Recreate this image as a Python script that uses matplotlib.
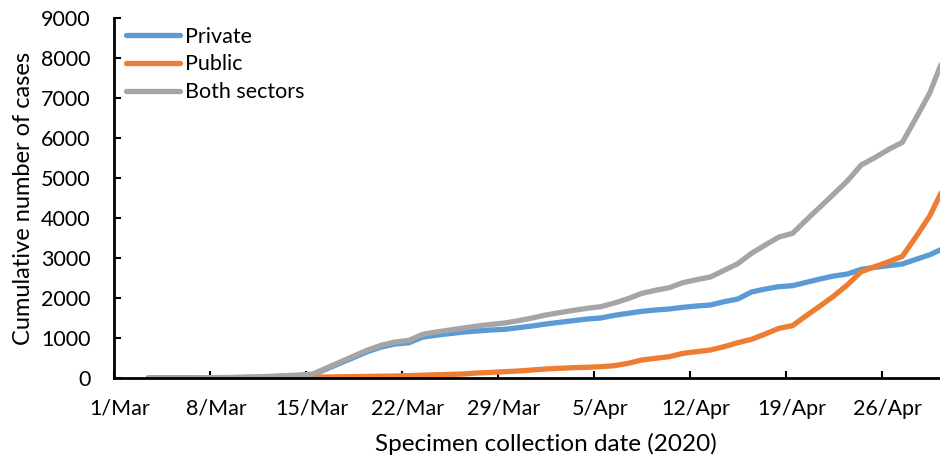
import datetime as dt
import matplotlib
matplotlib.use("Agg")
import matplotlib.pyplot as plt
import matplotlib.transforms as mtransforms

# --- Data, daily from 3 Mar to 30 Apr 2020
start_date = dt.date(2020, 3, 3)
private = [2, 3, 4, 5, 6, 8, 10, 16, 24, 34, 46, 62, 80,
           225, 370, 515, 660, 775, 850, 880, 1020, 1070, 1110, 1150, 1175, 1200, 1217,
           1258, 1300, 1350, 1392, 1433, 1475, 1500, 1567, 1617, 1667, 1700, 1725, 1767,
           1800, 1825, 1908, 1975, 2150, 2225, 2283, 2308, 2392, 2475, 2550, 2600, 2717,
           2767, 2808, 2850, 2967, 3080, 3240]
public = [0, 0, 1, 1, 2, 2, 3, 4, 6, 8, 10, 13, 20,
          25, 30, 35, 40, 45, 50, 60, 70, 80, 90, 100, 125, 140, 158,
          175, 200, 225, 242, 258, 267, 283, 308, 367, 450, 492, 533, 617,
          658, 700, 783, 883, 967, 1100, 1242, 1310, 1560, 1800, 2050, 2330, 2658,
          2783, 2908, 3040, 3533, 4050, 4750]
both = [2, 3, 5, 6, 8, 10, 13, 20, 30, 42, 56, 75, 100,
        250, 400, 550, 700, 820, 900, 940, 1090, 1150, 1200, 1250, 1300, 1340, 1375,
        1433, 1500, 1575, 1634, 1691, 1742, 1783, 1875, 1984, 2117, 2192, 2258, 2384,
        2458, 2525, 2691, 2858, 3117, 3325, 3525, 3618, 3952, 4275, 4600, 4930, 5325,
        5510, 5716, 5890, 6500, 7130, 7990]

tick_labels = ["1/Mar", "8/Mar", "15/Mar", "22/Mar", "29/Mar", "5/Apr", "12/Apr", "19/Apr", "26/Apr"]
y_ticks = [0, 1000, 2000, 3000, 4000, 5000, 6000, 7000, 8000, 9000]

# days since 1 Mar, points sit in the middle of each day (Excel date axis)
origin = dt.date(2020, 3, 1)
offset = (start_date - origin).days
days = [offset + i + 0.5 for i in range(len(both))]

plt.rcParams["font.family"] = ["Lato", "DejaVu Sans"]

fig = plt.figure(figsize=(9.4, 4.61), dpi=100)
ax = fig.add_axes([114 / 940, 83 / 461, 1 - 114 / 940, 360 / 461])

ax.plot(days, private, color="#5B9BD5", lw=3.8, label="Private", solid_capstyle="round")
ax.plot(days, public, color="#ED7D31", lw=3.8, label="Public", solid_capstyle="round")
ax.plot(days, both, color="#A5A5A5", lw=3.8, label="Both sectors", solid_capstyle="round")

ax.set_xlim(0, 826 / 13.71)
ax.set_ylim(0, 9000)
ax.set_xticks(range(0, 7 * len(tick_labels), 7))
ax.set_xticklabels(tick_labels)
ax.set_yticks(y_ticks)

for side in ["top", "right"]:
    ax.spines[side].set_visible(False)
for side in ["left", "bottom"]:
    ax.spines[side].set_linewidth(2)
    ax.spines[side].set_color("black")
ax.tick_params(axis="both", direction="in", length=5, width=1.5, labelsize=15.5, colors="black")
ax.tick_params(axis="x", pad=15)
ax.tick_params(axis="y", pad=17)

# Excel puts the date labels a little right of the tick
shift = mtransforms.ScaledTranslation(6 / 100, 0, fig.dpi_scale_trans)
for lbl in ax.get_xticklabels():
    lbl.set_transform(lbl.get_transform() + shift)

ax.set_xlabel("Specimen collection date (2020)", fontsize=17.5)
ax.xaxis.set_label_coords(0.523, -0.152)
ax.set_ylabel("Cumulative number of cases", fontsize=17, labelpad=5)

leg = ax.legend(loc="upper left", bbox_to_anchor=(0.004, 1.0), frameon=False, fontsize=15.5,
                handlelength=2.5, handletextpad=0.25, labelspacing=0.36, borderaxespad=0.0)

fig.savefig("out.png", dpi=100)
